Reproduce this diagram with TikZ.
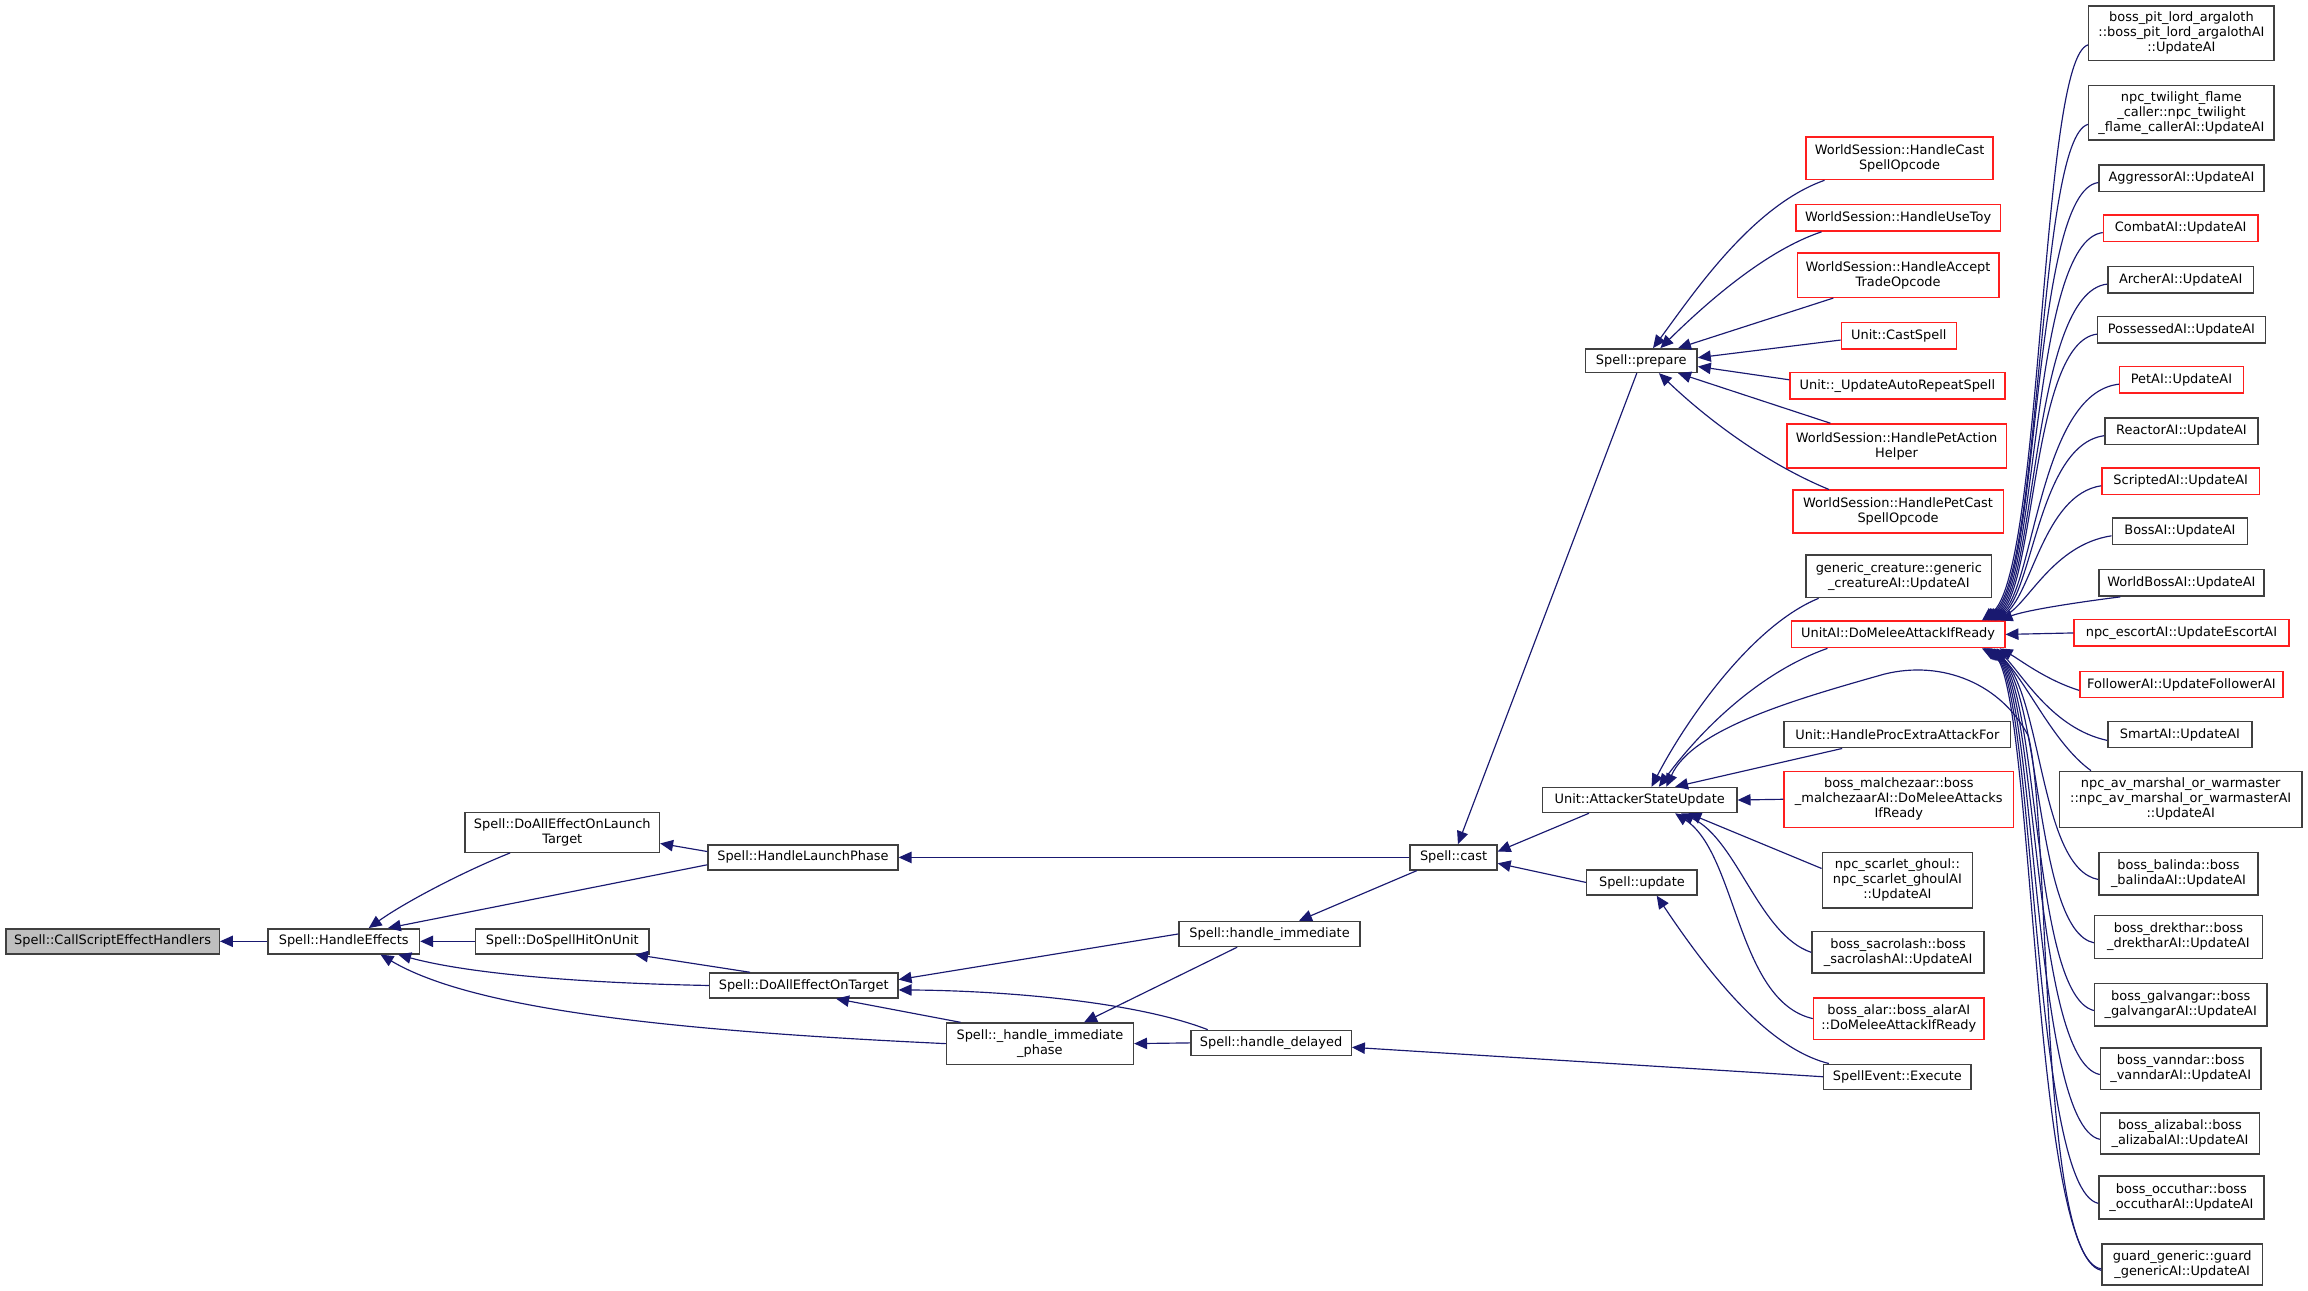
\documentclass[tikz,border=0pt]{standalone}
\usepackage{fontspec}
\setmainfont{DejaVu Sans}
\usetikzlibrary{arrows.meta,calc}
\definecolor{edgec}{RGB}{25,25,112}
\definecolor{redb}{RGB}{255,30,30}
\definecolor{blkb}{RGB}{64,64,64}
\definecolor{grayf}{RGB}{191,191,191}
\newcommand\bx[7]{\node[#6, minimum width={(#4-#2)*0.02cm}, minimum height={(#5-#3)*0.02cm}] (#1) at ({(#2+#4)/2},{(#3+#5)/2}) {#7};}
\begin{document}
\begin{tikzpicture}[x=0.02cm,y=-0.02cm,
  base/.style={draw, line width=0.55pt, inner sep=0pt, align=center, font=\fontsize{5}{5.8}\selectfont, fill=white},
  blk/.style={base, draw=blkb},
  rbox/.style={base, draw=redb},
  gbox/.style={base, draw=blkb, fill=grayf},
  edge/.style={draw=edgec, line width=0.45pt, -{Triangle[length=5pt,width=4.4pt]}}]
\useasboundingbox (0,0) rectangle (1568,877);
% left part
\bx{cse}{4}{631}{149}{648}{gbox}{Spell::CallScriptEffectHandlers}
\bx{he}{182}{631}{285}{648}{blk}{Spell::HandleEffects}
\bx{dlt}{316}{552}{448}{579}{blk}{Spell::DoAllEffectOnLaunch\\Target}
\bx{dsh}{323}{631}{441}{648}{blk}{Spell::DoSpellHitOnUnit}
\bx{hlp}{481}{574}{610}{591}{blk}{Spell::HandleLaunchPhase}
\bx{dat}{482}{661}{610}{678}{blk}{Spell::DoAllEffectOnTarget}
\bx{hip}{643}{695}{770}{723}{blk}{Spell::\_handle\_immediate\\\_phase}
\bx{hi}{801}{626}{924}{643}{blk}{Spell::handle\_immediate}
\bx{hd}{809}{700}{918}{717}{blk}{Spell::handle\_delayed}
\bx{cast}{958}{574}{1017}{591}{blk}{Spell::cast}
\bx{prep}{1077}{237}{1153}{253}{blk}{Spell::prepare}
\bx{asu}{1048}{535}{1180}{552}{blk}{Unit::AttackerStateUpdate}
\bx{upd}{1078}{591}{1153}{608}{blk}{Spell::update}
\bx{exe}{1239}{723}{1339}{740}{blk}{SpellEvent::Execute}
% prepare callers
\bx{wsc}{1227}{93}{1354}{122}{rbox}{WorldSession::HandleCast\\SpellOpcode}
\bx{toy}{1220}{139}{1359}{157}{rbox}{WorldSession::HandleUseToy}
\bx{acc}{1221}{172}{1358}{202}{rbox}{WorldSession::HandleAccept\\TradeOpcode}
\bx{ucs}{1251}{219}{1329}{237}{rbox}{Unit::CastSpell}
\bx{uar}{1216}{253}{1362}{271}{rbox}{Unit::\_UpdateAutoRepeatSpell}
\bx{wpa}{1214}{288}{1363}{318}{rbox}{WorldSession::HandlePetAction\\Helper}
\bx{wpc}{1218}{333}{1361}{362}{rbox}{WorldSession::HandlePetCast\\SpellOpcode}
% attacker state update callers
\bx{gen}{1227}{377}{1353}{406}{blk}{generic\_creature::generic\\\_creatureAI::UpdateAI}
\bx{dma}{1217}{422}{1362}{440}{rbox}{UnitAI::DoMeleeAttackIfReady}
\bx{hpe}{1212}{490}{1366}{508}{blk}{Unit::HandleProcExtraAttackFor}
\bx{mal}{1212}{524}{1368}{562}{rbox}{boss\_malchezaar::boss\\\_malchezaarAI::DoMeleeAttacks\\IfReady}
\bx{sgh}{1238}{579}{1340}{617}{blk}{npc\_scarlet\_ghoul::\\npc\_scarlet\_ghoulAI\\::UpdateAI}
\bx{sac}{1231}{633}{1348}{661}{blk}{boss\_sacrolash::boss\\\_sacrolashAI::UpdateAI}
\bx{ala}{1232}{678}{1348}{706}{rbox}{boss\_alar::boss\_alarAI\\::DoMeleeAttackIfReady}
% right column
\bx{pit}{1419}{4}{1545}{41}{blk}{boss\_pit\_lord\_argaloth\\::boss\_pit\_lord\_argalothAI\\::UpdateAI}
\bx{twi}{1419}{58}{1545}{95}{blk}{npc\_twilight\_flame\\\_caller::npc\_twilight\\\_flame\_callerAI::UpdateAI}
\bx{agg}{1426}{112}{1538}{130}{blk}{AggressorAI::UpdateAI}
\bx{com}{1429}{146}{1534}{164}{rbox}{CombatAI::UpdateAI}
\bx{arc}{1432}{181}{1531}{199}{blk}{ArcherAI::UpdateAI}
\bx{pos}{1425}{215}{1539}{233}{blk}{PossessedAI::UpdateAI}
\bx{pet}{1440}{249}{1524}{267}{rbox}{PetAI::UpdateAI}
\bx{rea}{1430}{284}{1534}{302}{blk}{ReactorAI::UpdateAI}
\bx{scr}{1428}{318}{1535}{336}{rbox}{ScriptedAI::UpdateAI}
\bx{bos}{1435}{352}{1527}{370}{blk}{BossAI::UpdateAI}
\bx{wbo}{1426}{387}{1538}{405}{blk}{WorldBossAI::UpdateAI}
\bx{esc}{1409}{421}{1555}{439}{rbox}{npc\_escortAI::UpdateEscortAI}
\bx{fol}{1413}{456}{1551}{474}{rbox}{FollowerAI::UpdateFollowerAI}
\bx{sma}{1432}{490}{1530}{508}{blk}{SmartAI::UpdateAI}
\bx{nav}{1399}{524}{1564}{562}{blk}{npc\_av\_marshal\_or\_warmaster\\::npc\_av\_marshal\_or\_warmasterAI\\::UpdateAI}
\bx{bal}{1426}{579}{1534}{608}{blk}{boss\_balinda::boss\\\_balindaAI::UpdateAI}
\bx{dre}{1423}{622}{1537}{651}{blk}{boss\_drekthar::boss\\\_drektharAI::UpdateAI}
\bx{gal}{1423}{668}{1540}{697}{blk}{boss\_galvangar::boss\\\_galvangarAI::UpdateAI}
\bx{van}{1427}{712}{1536}{740}{blk}{boss\_vanndar::boss\\\_vanndarAI::UpdateAI}
\bx{ali}{1427}{756}{1535}{784}{blk}{boss\_alizabal::boss\\\_alizabalAI::UpdateAI}
\bx{occ}{1426}{799}{1538}{828}{blk}{boss\_occuthar::boss\\\_occutharAI::UpdateAI}
\bx{gua}{1428}{845}{1537}{873}{blk}{guard\_generic::guard\\\_genericAI::UpdateAI}
% ---------- edges ----------
\draw[edge] (he.west) -- (cse.east);
\draw[edge] ($(dlt.south west)+(31,0)$) .. controls (315,592) and (275,613) .. ($(he.north)+(17,0)$);
\draw[edge] ($(hlp.west)+(0,5)$) -- ($(he.north east)+(-22,0)$);
\draw[edge] (dsh.west) -- (he.east);
\draw[edge] (dat.west) .. controls (400,668) and (320,662) .. ($(he.south east)+(-15,0)$);
\draw[edge] (hip.west) .. controls (450,700) and (320,685) .. ($(he.south)+(25,0)$);
\draw[edge] ($(hlp.west)+(0,-4)$) -- ($(dlt.east)+(0,7.5)$);
\draw[edge] ($(dat.north west)+(28,0)$) -- ($(dsh.south east)+(-10,0)$);
\draw[edge] (cast.west) -- (hlp.east);
\draw[edge] (hi.west) -- ($(dat.east)+(0,-4)$);
\draw[edge] ($(hd.north west)+(12,0)$) .. controls (770,680) and (680,673) .. ($(dat.east)+(0,3)$);
\draw[edge] ($(hip.north west)+(10,0)$) -- ($(dat.south)+(22,0)$);
\draw[edge] ($(hi.south west)+(40,0)$) -- ($(hip.north)+(30,0)$);
\draw[edge] (hd.west) -- (hip.east);
\draw[edge] ($(cast.south west)+(5,0)$) -- ($(hi.north)+(20,0)$);
\draw[edge] (exe.west) -- ($(hd.east)+(0,3)$);
\draw[edge] ($(prep.south)+(-3,0)$) -- ($(cast.north)+(3,0)$);
\draw[edge] ($(asu.south west)+(32,0)$) -- ($(cast.east)+(0,-4)$);
\draw[edge] (upd.west) -- ($(cast.east)+(0,4)$);
\draw[edge] ($(exe.north west)+(4,0)$) .. controls (1200,712) and (1160,660) .. ($(upd.south)+(10,0)$);
% prepare callers
\draw[edge] ($(wsc.south west)+(13,0)$) .. controls (1190,140) and (1150,200) .. ($(prep.north)+(8,0)$);
\draw[edge] ($(toy.south west)+(18,0)$) .. controls (1200,170) and (1160,205) .. ($(prep.north)+(13,0)$);
\draw[edge] ($(acc.south west)+(25,0)$) -- ($(prep.north)+(25,0)$);
\draw[edge] ($(ucs.west)+(0,3)$) -- ($(prep.east)+(0,-2)$);
\draw[edge] ($(uar.west)+(0,-4)$) -- ($(prep.east)+(0,4)$);
\draw[edge] ($(wpa.north west)+(30,0)$) -- ($(prep.south)+(25,0)$);
\draw[edge] ($(wpc.north west)+(25,0)$) .. controls (1200,315) and (1160,285) .. ($(prep.south)+(12,0)$);
% attacker state update callers
\draw[edge] ($(gen.south west)+(9,0)$) .. controls (1190,425) and (1145,490) .. ($(asu.north)+(8,0)$);
\draw[edge] ($(dma.south west)+(25,0)$) .. controls (1200,455) and (1160,490) .. ($(asu.north)+(13,0)$);
\draw[edge] ($(gua.west)+(0,3)$) .. controls (1385,856) and (1393,560) .. (1378,500) .. controls (1360,465) and (1320,448) .. (1280,458) .. controls (1220,475) and (1150,495) .. ($(asu.north)+(18,0)$);
\draw[edge] ($(hpe.south west)+(40,0)$) -- ($(asu.north)+(24,0)$);
\draw[edge] (mal.west) -- (asu.east);
\draw[edge] ($(sgh.west)+(0,-8)$) -- ($(asu.south)+(33,0)$);
\draw[edge] (sac.west) .. controls (1195,635) and (1180,570) .. ($(asu.south)+(28,0)$);
\draw[edge] (ala.west) .. controls (1180,680) and (1180,580) .. ($(asu.south)+(24,0)$);
% DoMeleeAttackIfReady callers (top)
\draw[edge] ($(pit.west)+(0,8)$) .. controls (1386,40) and (1388,390) .. ($(dma.north east)+(-16,0)$);
\draw[edge] ($(twi.west)+(0,8)$) .. controls (1384,94) and (1387,392) .. ($(dma.north east)+(-15,0)$);
\draw[edge] ($(agg.west)+(0,3)$) .. controls (1380,130) and (1386,394) .. ($(dma.north east)+(-14,0)$);
\draw[edge] ($(com.west)+(0,3)$) .. controls (1380,164) and (1385,396) .. ($(dma.north east)+(-13,0)$);
\draw[edge] ($(arc.west)+(0,3)$) .. controls (1380,199) and (1384,398) .. ($(dma.north east)+(-12,0)$);
\draw[edge] ($(pos.west)+(0,3)$) .. controls (1380,233) and (1383,400) .. ($(dma.north east)+(-11,0)$);
\draw[edge] ($(pet.west)+(0,3)$) .. controls (1385,267) and (1382,402) .. ($(dma.north east)+(-10,0)$);
\draw[edge] ($(rea.west)+(0,3)$) .. controls (1385,302) and (1381,404) .. ($(dma.north east)+(-9,0)$);
\draw[edge] ($(scr.west)+(0,3)$) .. controls (1388,336) and (1380,406) .. ($(dma.north east)+(-8,0)$);
\draw[edge] ($(bos.west)+(0,3)$) .. controls (1395,370) and (1378,410) .. ($(dma.north east)+(-7,0)$);
\draw[edge] ($(wbo.south west)+(15,0)$) .. controls (1405,410) and (1375,415) .. ($(dma.north east)+(-4,0)$);
\draw[edge] (esc.west) -- (dma.east);
% DoMeleeAttackIfReady callers (bottom)
\draw[edge] ($(fol.west)+(0,4)$) .. controls (1390,462) and (1372,448) .. ($(dma.south east)+(-4,0)$);
\draw[edge] ($(sma.west)+(0,4)$) .. controls (1395,495) and (1375,460) .. ($(dma.south east)+(-6,0)$);
\draw[edge] ($(nav.north west)+(22,0)$) .. controls (1395,505) and (1378,465) .. ($(dma.south east)+(-8,0)$);
\draw[edge] ($(bal.west)+(0,4)$) .. controls (1385,590) and (1388,470) .. ($(dma.south east)+(-10,0)$);
\draw[edge] ($(dre.west)+(0,4)$) .. controls (1382,632) and (1387,468) .. ($(dma.south east)+(-11,0)$);
\draw[edge] ($(gal.west)+(0,4)$) .. controls (1380,676) and (1386,466) .. ($(dma.south east)+(-12,0)$);
\draw[edge] ($(van.west)+(0,4)$) .. controls (1380,720) and (1385,464) .. ($(dma.south east)+(-13,0)$);
\draw[edge] ($(ali.west)+(0,4)$) .. controls (1380,764) and (1384,462) .. ($(dma.south east)+(-14,0)$);
\draw[edge] ($(occ.west)+(0,4)$) .. controls (1380,808) and (1383,460) .. ($(dma.south east)+(-15,0)$);
\draw[edge] ($(gua.west)+(0,4)$) .. controls (1380,853) and (1382,458) .. ($(dma.south east)+(-16,0)$);
\end{tikzpicture}
\end{document}
